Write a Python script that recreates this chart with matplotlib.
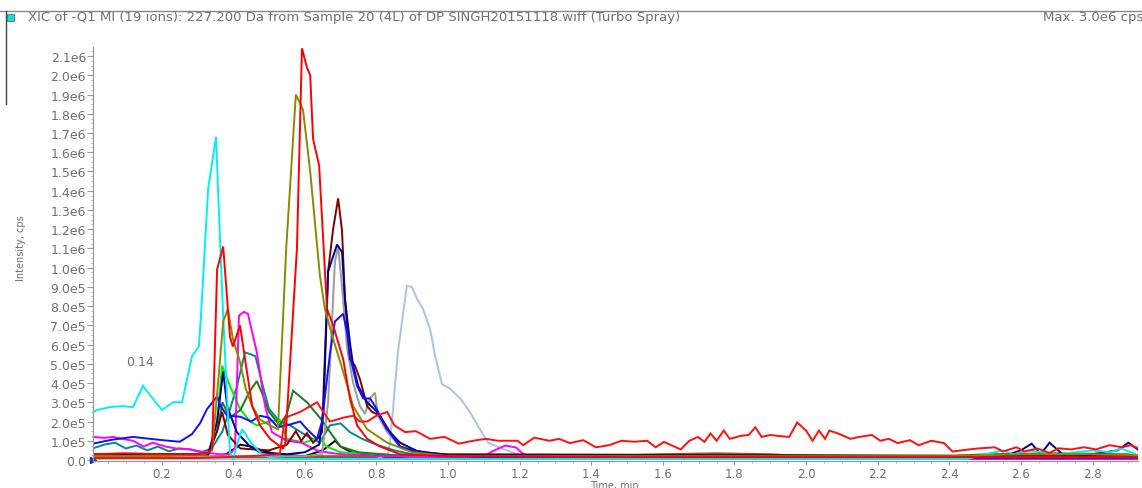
import matplotlib
matplotlib.use('Agg')
import matplotlib.pyplot as plt
from matplotlib.lines import Line2D
from matplotlib.patches import Rectangle
from matplotlib.ticker import MultipleLocator

# XIC traces, intensity in units of 1e5 cps, time in min
cyan_t = [0.008, 0.02, 0.056, 0.09, 0.12, 0.148, 0.175, 0.201, 0.232, 0.257, 0.285, 0.304, 0.31, 0.33, 0.352,
          0.363, 0.372, 0.383, 0.391, 0.40, 0.41, 0.425, 0.45, 0.48, 0.51, 0.55, 1.0, 2.45, 2.5, 2.55, 2.58,
          2.62, 2.66, 2.7, 2.75, 2.8, 2.85, 2.88, 2.92]
cyan_i = [2.5, 2.6, 2.75, 2.8, 2.75, 3.85, 3.2, 2.6, 3.0, 3.0, 5.4, 5.9, 7.5, 14.1, 16.8,
          11.5, 7.5, 3.2, 0.4, 0.0, 0.8, 1.6, 0.9, 0.3, 0.1, 0.05, 0.05, 0.05, 0.3, 0.5, 0.3,
          0.5, 0.4, 0.3, 0.4, 0.5, 0.4, 0.6, 0.3]

red_t = [0.008, 0.1, 0.2, 0.3, 0.33, 0.341, 0.355, 0.372, 0.391, 0.399, 0.419, 0.433, 0.453, 0.475, 0.503,
         0.539, 0.545, 0.578, 0.592, 0.606, 0.615, 0.623, 0.64, 0.662, 0.679, 0.707, 0.726, 0.746, 0.774,
         0.81, 0.866, 1.0, 1.5, 2.94]
red_i = [0.3, 0.35, 0.3, 0.3, 0.4, 0.6, 9.9, 11.1, 6.4, 5.9, 7.0, 5.25, 2.8, 1.8, 1.1,
         0.6, 0.8, 11.0, 21.4, 20.4, 20.0, 16.7, 15.3, 7.85, 7.0, 5.25, 3.2, 1.8, 1.1,
         0.7, 0.3, 0.2, 0.15, 0.15]

red2_t = [0.008, 0.3, 0.45, 0.53, 0.545, 0.587, 0.634, 0.67, 0.69, 0.707, 0.735, 0.754, 0.774, 0.80, 0.83,
          0.85, 0.88, 0.91, 0.95, 0.99, 1.03, 1.07, 1.105, 1.14, 1.194, 1.21, 1.241, 1.283, 1.31, 1.34,
          1.378, 1.413, 1.45, 1.484, 1.52, 1.556, 1.58, 1.603, 1.65, 1.674, 1.698, 1.716, 1.733, 1.75,
          1.77, 1.787, 1.816, 1.84, 1.858, 1.876, 1.9, 1.923, 1.953, 1.975, 2.0, 2.018, 2.036, 2.053,
          2.065, 2.089, 2.124, 2.148, 2.184, 2.207, 2.231, 2.255, 2.29, 2.314, 2.35, 2.385, 2.409, 2.433,
          2.48, 2.527, 2.55, 2.587, 2.61, 2.646, 2.68, 2.705, 2.74, 2.776, 2.81, 2.847, 2.883, 2.907, 2.936]
red2_i = [0.1, 0.1, 0.2, 0.3, 2.2, 2.5, 3.0, 2.0, 2.1, 2.2, 2.3, 2.0, 2.0, 2.3, 2.5,
          1.8, 1.45, 1.5, 1.1, 1.2, 0.85, 1.0, 1.1, 1.0, 1.0, 0.77, 1.16, 1.0, 1.1, 0.88,
          1.03, 0.66, 0.77, 1.0, 0.95, 1.0, 0.66, 0.94, 0.55, 1.0, 1.2, 0.94, 1.38, 1.0,
          1.53, 1.1, 1.25, 1.3, 1.7, 1.2, 1.3, 1.25, 1.2, 1.95, 1.53, 1.0, 1.53, 1.1,
          1.53, 1.38, 1.1, 1.2, 1.3, 1.0, 1.1, 0.88, 1.03, 0.77, 1.0, 0.88, 0.44, 0.5,
          0.6, 0.66, 0.44, 0.66, 0.44, 0.6, 0.37, 0.61, 0.55, 0.66, 0.55, 0.77, 0.66, 0.77, 0.55]

magenta_t = [0.008, 0.04, 0.064, 0.09, 0.12, 0.15, 0.175, 0.21, 0.24, 0.28, 0.32, 0.36, 0.39, 0.405, 0.416,
             0.43, 0.441, 0.466, 0.489, 0.508, 0.55, 0.59, 0.64, 0.7, 0.8, 1.0, 1.1, 1.126, 1.16, 1.19,
             1.21, 1.25, 1.4, 2.94]
magenta_i = [1.2, 1.15, 1.2, 1.1, 1.0, 0.7, 0.9, 0.7, 0.6, 0.55, 0.4, 0.3, 0.3, 0.6, 7.5,
             7.7, 7.6, 5.6, 2.8, 1.45, 1.0, 0.9, 0.45, 0.3, 0.2, 0.15, 0.2, 0.47, 0.75, 0.65,
             0.3, 0.1, 0.05, 0.05]

olive_t = [0.008, 0.2, 0.32, 0.341, 0.36, 0.372, 0.385, 0.399, 0.419, 0.435, 0.453, 0.475, 0.503, 0.525,
           0.548, 0.575, 0.595, 0.615, 0.625, 0.642, 0.656, 0.679, 0.707, 0.735, 0.774, 0.83, 0.9, 1.0,
           2.4, 2.6, 2.8, 2.94]
olive_i = [0.2, 0.2, 0.3, 0.5, 4.5, 7.2, 7.85, 6.3, 5.1, 3.7, 2.8, 2.1, 1.8, 1.6,
           11.0, 19.0, 18.2, 15.0, 13.0, 9.6, 7.85, 6.3, 4.6, 2.8, 1.6, 0.9, 0.4, 0.2,
           0.2, 0.3, 0.3, 0.25]

blue_t = [0.008, 0.06, 0.12, 0.168, 0.22, 0.251, 0.285, 0.307, 0.327, 0.355, 0.365, 0.383, 0.42, 0.45,
          0.475, 0.5, 0.525, 0.55, 0.587, 0.606, 0.634, 0.648, 0.67, 0.684, 0.707, 0.718, 0.726, 0.746,
          0.763, 0.782, 0.796, 0.83, 0.866, 0.913, 1.0, 1.2, 2.94]
blue_i = [0.85, 1.05, 1.2, 1.1, 1.0, 0.95, 1.35, 1.9, 2.65, 3.3, 2.8, 2.3, 2.25, 2.0,
          2.3, 2.2, 1.7, 1.8, 2.0, 1.6, 1.1, 2.0, 5.5, 7.2, 7.6, 6.65, 5.4, 3.85,
          3.2, 3.2, 2.8, 1.6, 0.7, 0.4, 0.2, 0.1, 0.1]

navy_t = [0.008, 0.33, 0.355, 0.372, 0.383, 0.41, 0.447, 0.475, 0.55, 0.6, 0.64, 0.652, 0.665, 0.69,
          0.704, 0.712, 0.726, 0.735, 0.749, 0.774, 0.802, 0.83, 0.866, 0.913, 1.0, 2.55, 2.6, 2.63,
          2.655, 2.68, 2.71, 2.73, 2.8, 2.87, 2.9, 2.93]
navy_i = [0.3, 0.3, 2.0, 4.6, 2.8, 1.45, 0.7, 0.4, 0.3, 0.4, 0.8, 2.5, 9.8, 11.2,
          10.8, 8.4, 6.1, 4.9, 3.85, 3.0, 2.5, 1.6, 0.9, 0.47, 0.25, 0.2, 0.5, 0.85,
          0.3, 0.9, 0.4, 0.1, 0.3, 0.5, 0.9, 0.5]

maroon_t = [0.008, 0.33, 0.355, 0.369, 0.385, 0.42, 0.5, 0.55, 0.575, 0.59, 0.606, 0.623, 0.64, 0.648,
            0.665, 0.679, 0.693, 0.704, 0.712, 0.726, 0.74, 0.754, 0.774, 0.788, 0.81, 0.838, 0.866,
            0.913, 1.0, 2.94]
maroon_i = [0.3, 0.3, 1.5, 2.5, 1.3, 0.6, 0.5, 0.8, 1.5, 1.0, 1.4, 0.9, 1.2, 1.45,
            9.8, 12.0, 13.6, 11.9, 8.4, 5.25, 4.9, 4.2, 2.8, 2.5, 2.3, 1.45, 0.7,
            0.4, 0.3, 0.2]

gray_t = [0.008, 0.6, 0.648, 0.665, 0.684, 0.693, 0.704, 0.718, 0.735, 0.754, 0.768, 0.782, 0.796, 0.804,
          0.83, 0.866, 0.95, 1.1, 2.94]
gray_i = [0.2, 0.2, 0.3, 3.0, 10.3, 11.1, 9.0, 5.8, 4.0, 2.8, 2.4, 3.2, 3.5, 2.3,
          1.45, 0.7, 0.3, 0.1, 0.1]

steel_t = [0.008, 0.8, 0.832, 0.838, 0.86, 0.885, 0.899, 0.913, 0.93, 0.95, 0.964, 0.983, 1.006, 1.034,
           1.061, 1.089, 1.112, 1.154, 1.209, 1.3, 2.94]
steel_i = [0.05, 0.05, 0.3, 0.9, 5.6, 9.05, 9.0, 8.4, 7.85, 6.8, 5.4, 3.95, 3.7, 3.2,
           2.5, 1.6, 0.9, 0.57, 0.2, 0.05, 0.05]

teal_t = [0.008, 0.04, 0.07, 0.1, 0.13, 0.16, 0.19, 0.22, 0.25, 0.28, 0.31, 0.34, 0.37, 0.391, 0.41,
          0.433, 0.462, 0.48, 0.5, 0.53, 0.559, 0.606, 0.642, 0.67, 0.7, 0.726, 0.76, 0.8, 0.85, 0.9,
          1.0, 2.94]
teal_i = [0.6, 0.8, 0.9, 0.6, 0.75, 0.5, 0.7, 0.45, 0.6, 0.55, 0.4, 0.6, 1.5, 2.65, 3.8,
          5.6, 5.4, 4.05, 2.65, 2.0, 1.8, 1.25, 0.9, 1.8, 1.9, 1.45, 1.1, 0.8, 0.5, 0.3,
          0.15, 0.15]

lime_t = [0.008, 0.33, 0.355, 0.369, 0.391, 0.419, 0.447, 0.466, 0.5, 0.53, 0.55, 0.6, 0.64, 0.66, 0.7,
          0.8, 0.9, 2.94]
lime_i = [0.2, 0.2, 2.0, 4.9, 3.85, 2.65, 2.0, 1.8, 2.0, 2.1, 1.1, 0.9, 1.2, 0.7, 0.4,
          0.3, 0.15, 0.15]

green_t = [0.008, 0.33, 0.355, 0.37, 0.39, 0.42, 0.447, 0.466, 0.48, 0.5, 0.53, 0.55, 0.567, 0.58, 0.606,
           0.642, 0.68, 0.7, 0.75, 0.85, 1.0, 2.4, 2.6, 2.94]
green_i = [0.3, 0.3, 1.5, 3.0, 2.2, 2.6, 3.6, 4.1, 3.5, 2.5, 1.8, 2.4, 3.6, 3.4, 3.0,
           2.2, 1.2, 0.7, 0.4, 0.25, 0.2, 0.2, 0.3, 0.2]

black_t = [0.008, 0.35, 0.38, 0.42, 0.45, 0.48, 0.52, 0.6, 0.65, 0.685, 0.7, 0.73, 0.8, 1.0, 2.94]
black_i = [0.15, 0.15, 0.3, 0.8, 0.7, 0.5, 0.3, 0.2, 0.5, 1.0, 0.7, 0.4, 0.2, 0.1, 0.1]

purple_t = [0.008, 0.5, 1.0, 2.0, 2.94]
purple_i = [0.1, 0.1, 0.15, 0.1, 0.1]

sienna_t = [0.008, 1.0, 1.5, 1.6, 1.75, 1.9, 2.0, 2.94]
sienna_i = [0.2, 0.2, 0.25, 0.3, 0.35, 0.3, 0.2, 0.2]

orange_t = [0.008, 1.2, 1.55, 1.7, 1.95, 2.2, 2.94]
orange_i = [0.15, 0.15, 0.25, 0.3, 0.25, 0.15, 0.15]

dkolive_t = [0.008, 2.0, 2.4, 2.5, 2.7, 2.9, 2.94]
dkolive_i = [0.1, 0.1, 0.2, 0.3, 0.35, 0.3, 0.1]

slate_t = [0.008, 0.8, 1.1, 2.94]
slate_i = [0.05, 0.1, 0.05, 0.05]

traces = [
    (purple_t, purple_i, '#800080'),
    (slate_t, slate_i, '#6a5acd'),
    (orange_t, orange_i, '#e08020'),
    (sienna_t, sienna_i, '#a0522d'),
    (dkolive_t, dkolive_i, '#556b2f'),
    (black_t, black_i, '#000000'),
    (steel_t, steel_i, '#a8c4e4'),
    (teal_t, teal_i, '#008b8b'),
    (lime_t, lime_i, '#00ee00'),
    (green_t, green_i, '#1a7a1a'),
    (magenta_t, magenta_i, '#ff00ff'),
    (gray_t, gray_i, '#9a9a9a'),
    (maroon_t, maroon_i, '#800000'),
    (navy_t, navy_i, '#000090'),
    (blue_t, blue_i, '#1010ff'),
    (cyan_t, cyan_i, '#00f0f0'),
    (olive_t, olive_i, '#8a8a00'),
    (red2_t, red2_i, '#ff1010'),
    (red_t, red_i, '#ff0000'),
]

y_ticks = [i * 1e5 for i in range(22)]
y_tick_labels = ['0.0', '1.0e5', '2.0e5', '3.0e5', '4.0e5', '5.0e5', '6.0e5', '7.0e5', '8.0e5', '9.0e5',
                 '1.0e6', '1.1e6', '1.2e6', '1.3e6', '1.4e6', '1.5e6', '1.6e6', '1.7e6', '1.8e6', '1.9e6',
                 '2.0e6', '2.1e6']
x_ticks = [0.2, 0.4, 0.6, 0.8, 1.0, 1.2, 1.4, 1.6, 1.8, 2.0, 2.2, 2.4, 2.6, 2.8]
x_tick_labels = ['0.2', '0.4', '0.6', '0.8', '1.0', '1.2', '1.4', '1.6', '1.8', '2.0', '2.2', '2.4', '2.6', '2.8']

W, H = 1142, 489
fig = plt.figure(figsize=(W / 100, H / 100), dpi=100)
ax = fig.add_axes([93 / W, 1 - 462 / H, (1138 - 93) / W, (462 - 48) / H])

for t, inten, col in traces:
    ax.plot(t, [v * 1e5 for v in inten], color=col, lw=1.4, solid_joinstyle='miter')

# little marker at the origin of the trace window
ax.plot([0.0084], [0], marker='>', color='#1030c0', ms=5, clip_on=False)

ax.set_xlim(0.0084, 2.927)
ax.set_ylim(-5200, 2.147e6)

txt = '#707070'
ax.set_yticks(y_ticks)
ax.set_yticklabels(y_tick_labels)
ax.set_xticks(x_ticks)
ax.set_xticklabels(x_tick_labels)
ax.yaxis.set_minor_locator(MultipleLocator(2.5e4))
ax.xaxis.set_minor_locator(MultipleLocator(0.05))
ax.tick_params(axis='both', which='major', labelsize=9, colors='#999999', labelcolor=txt, length=4, width=0.8, pad=1)
ax.tick_params(axis='x', which='major', labelsize=8.5, length=3, pad=1)
ax.tick_params(axis='both', which='minor', colors='#aaaaaa', length=1.5, width=0.6)
for s in ['top', 'right']:
    ax.spines[s].set_visible(False)
for s in ['left', 'bottom']:
    ax.spines[s].set_color('#999999')
    ax.spines[s].set_linewidth(0.9)

ax.text(0.14, 5.1e5, '0.14', fontsize=9, color=txt, ha='center', va='center')

# header of the chromatogram window
fig.add_artist(Line2D([0, 1], [1 - 12 / H] * 2, color='#888888', lw=1))
fig.add_artist(Line2D([6 / W] * 2, [1 - 12 / H, 1 - 105 / H], color='#444444', lw=1))
fig.add_artist(Rectangle((7 / W, 1 - 22 / H), 7 / W, 7 / H, facecolor='#20d8d8', edgecolor='#208890', lw=0.6))
fig.text(28 / W, 1 - 18 / H,
         'XIC of -Q1 MI (19 ions): 227.200 Da from Sample 20 (4L) of DP SINGH20151118.wiff (Turbo Spray)',
         fontsize=9.5, color=txt, va='center', ha='left')
fig.text(1043 / W, 1 - 18 / H, 'Max. 3.0e6 cps', fontsize=9.5, color=txt, va='center', ha='left')
fig.text(21 / W, 1 - 248 / H, 'Intensity, cps', fontsize=7, color=txt, rotation=90, ha='center', va='center')
fig.text(614 / W, 1 - 486 / H, 'Time, min', fontsize=7, color=txt, ha='center', va='center')

fig.savefig('out.png', dpi=100)
